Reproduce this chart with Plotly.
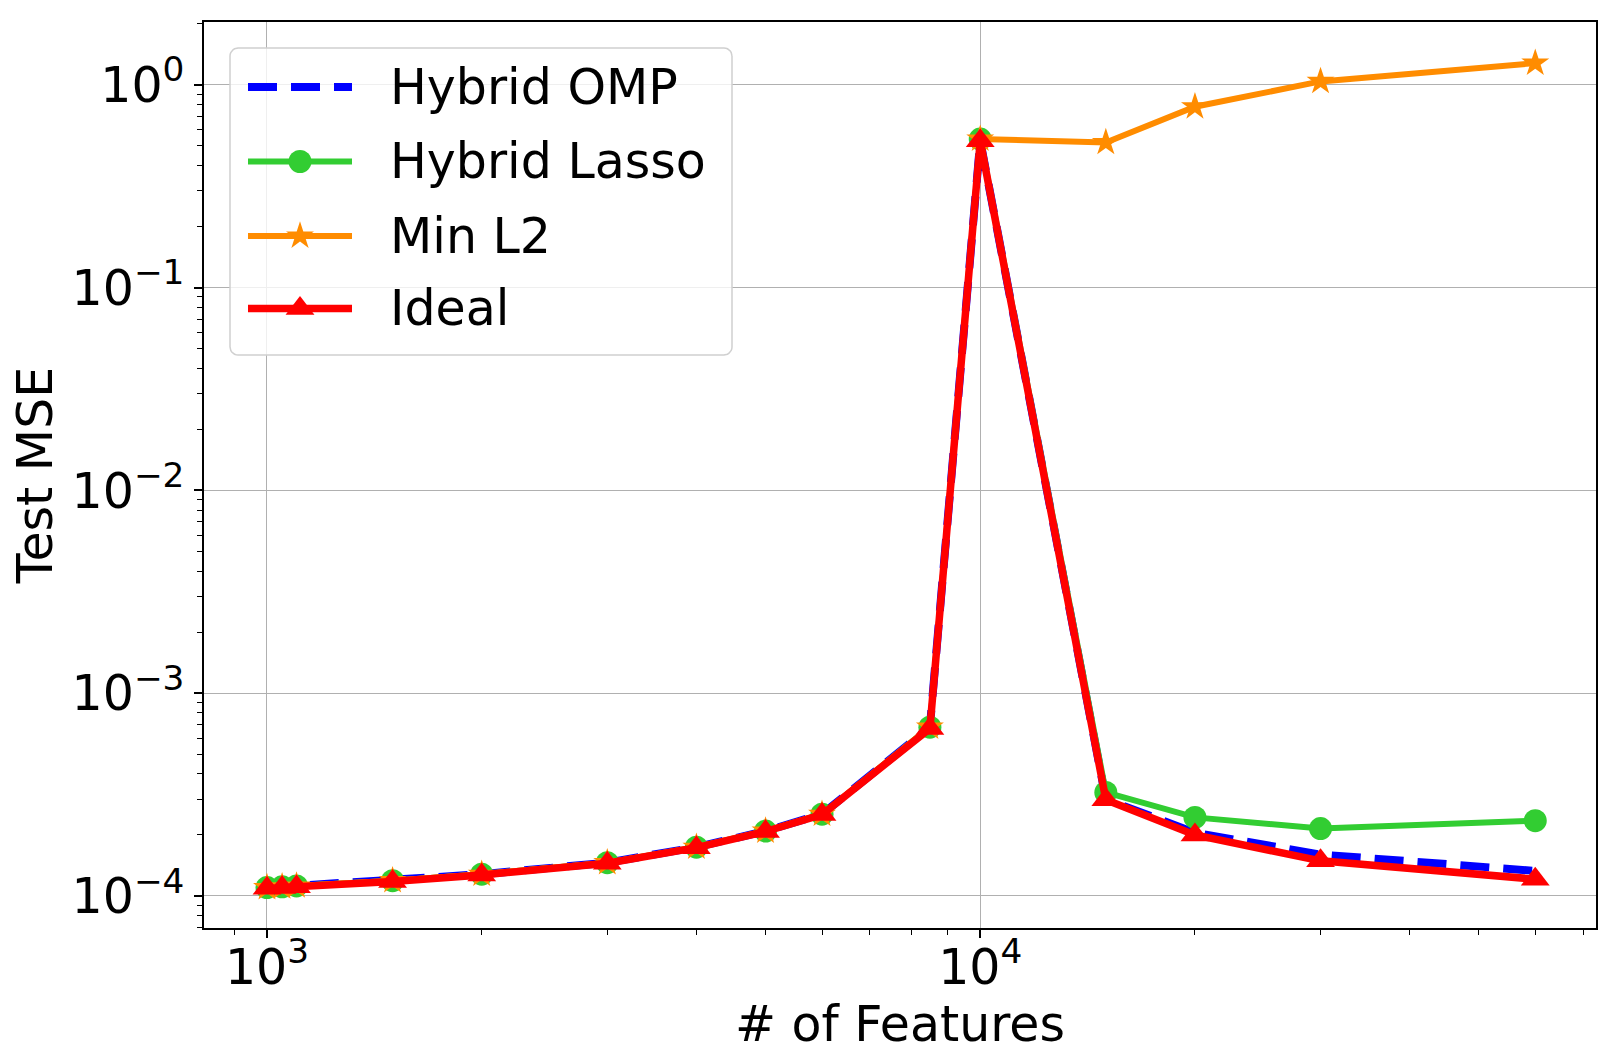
import plotly.graph_objects as go
import numpy as np

features = [1000, 1050, 1100, 1500, 2000, 3000, 4000, 5000, 6000, 8500, 10000, 15000, 20000, 30000, 60000]

hybrid_omp = [1.10e-4, 1.11e-4, 1.12e-4, 1.19e-4, 1.28e-4, 1.46e-4, 1.74e-4, 2.09e-4, 2.53e-4, 6.8e-4, 0.53, 3.0e-4, 2.05e-4, 1.60e-4, 1.33e-4]
hybrid_lasso = [1.10e-4, 1.11e-4, 1.12e-4, 1.19e-4, 1.28e-4, 1.46e-4, 1.74e-4, 2.09e-4, 2.53e-4, 6.8e-4, 0.54, 3.24e-4, 2.44e-4, 2.15e-4, 2.35e-4]
min_l2 = [1.10e-4, 1.11e-4, 1.12e-4, 1.19e-4, 1.28e-4, 1.46e-4, 1.74e-4, 2.09e-4, 2.53e-4, 6.8e-4, 0.54, 0.52, 0.78, 1.04, 1.28]
ideal = [1.09e-4, 1.10e-4, 1.11e-4, 1.18e-4, 1.27e-4, 1.45e-4, 1.73e-4, 2.08e-4, 2.52e-4, 6.7e-4, 0.53, 2.98e-4, 2.0e-4, 1.49e-4, 1.21e-4]

series_names = ["Hybrid OMP", "Hybrid Lasso", "Min L2", "Ideal"]

x_ticks = [1000, 10000]
x_ticktext = ["10<sup>3</sup>", "10<sup>4</sup>"]
y_ticks = [1e-4, 1e-3, 1e-2, 1e-1, 1]
y_ticktext = ["10<sup>\u22124</sup>", "10<sup>\u22123</sup>", "10<sup>\u22122</sup>", "10<sup>\u22121</sup>", "10<sup>0</sup>"]

FONT = "DejaVu Sans"
FS = 49

styles = [
    dict(mode="lines", line=dict(color="#0000ff", width=8, dash="29px,14px"), marker=None),
    dict(mode="lines+markers", line=dict(color="#32cd32", width=6), marker=dict(symbol="circle", size=23, color="#32cd32")),
    dict(mode="lines+markers", line=dict(color="#ff8c00", width=6), marker=dict(symbol="star", size=21, color="#ff8c00")),
    dict(mode="lines+markers", line=dict(color="#ff0000", width=7.5), marker=dict(symbol="triangle-up", size=25, color="#ff0000")),
]
data = [hybrid_omp, hybrid_lasso, min_l2, ideal]

fig = go.Figure()
for name, ys, st in zip(series_names, data, styles):
    kw = dict(x=features, y=ys, name=name, mode=st["mode"], line=st["line"], showlegend=False)
    if st["marker"]:
        kw["marker"] = st["marker"]
    fig.add_trace(go.Scatter(**kw))

# ---- custom legend in pixel coordinates of the plot area (overlay axes) ----
PW, PH = 1392, 906
bx0, bx1, by0, by1, rad = 26, 528, 573, 880, 8
t = np.linspace(0, np.pi / 2, 8)
px, py = [], []
for cx, cy, a0 in [(bx1 - rad, by1 - rad, 0), (bx0 + rad, by1 - rad, np.pi / 2),
                   (bx0 + rad, by0 + rad, np.pi), (bx1 - rad, by0 + rad, 1.5 * np.pi)]:
    px += list(cx + rad * np.cos(a0 + t))
    py += list(cy + rad * np.sin(a0 + t))
px.append(px[0]); py.append(py[0])
fig.add_trace(go.Scatter(x=px, y=py, xaxis="x2", yaxis="y2", mode="lines", fill="toself",
                         fillcolor="rgba(255,255,255,0.8)", line=dict(color="#d0d0d0", width=1.5),
                         showlegend=False, hoverinfo="skip"))
row_y = [841, 766.5, 692, 619.5]
lx0, lx1, tx = 44, 148, 184
for name, st, ry in zip(series_names, styles, row_y):
    fig.add_trace(go.Scatter(x=[lx0, lx1], y=[ry, ry], xaxis="x2", yaxis="y2", mode="lines",
                             line=st["line"], showlegend=False, hoverinfo="skip"))
    if st["marker"]:
        fig.add_trace(go.Scatter(x=[(lx0 + lx1) / 2], y=[ry], xaxis="x2", yaxis="y2", mode="markers",
                                 marker=st["marker"], showlegend=False, hoverinfo="skip"))
    fig.add_annotation(x=tx, y=ry, xref="x2", yref="y2", text=name, showarrow=False,
                       xanchor="left", yanchor="middle", font=dict(family=FONT, size=FS, color="black"))

minor_x = [m * 10 ** e for e in range(2, 5) for m in range(2, 10) if 800 < m * 10 ** e < 75000]
minor_y = [m * 10.0 ** e for e in range(-5, 1) for m in range(2, 10) if 6e-5 < m * 10.0 ** e < 2.1]

fig.update_layout(
    width=1623, height=1064,
    margin=dict(l=204, r=27, t=22, b=136),
    paper_bgcolor="white", plot_bgcolor="white",
    font=dict(family=FONT, size=FS, color="black"),
    showlegend=False,
    xaxis=dict(type="log", range=[np.log10(816), np.log10(73000)],
               tickmode="array", tickvals=x_ticks, ticktext=x_ticktext,
               showgrid=True, gridcolor="#b0b0b0", gridwidth=1.3,
               showline=True, linecolor="black", linewidth=1.5, mirror=True,
               ticks="outside", ticklen=8, tickwidth=1.5, tickcolor="black",
               ticklabelstandoff=-13,
               minor=dict(tickvals=minor_x, ticks="outside", ticklen=5, tickwidth=1, tickcolor="black", showgrid=False),
               title=dict(text="# of Features", font=dict(family=FONT, size=FS), standoff=0),
               zeroline=False),
    yaxis=dict(type="log", range=[-4.158, 0.31],
               tickmode="array", tickvals=y_ticks, ticktext=y_ticktext,
               showgrid=True, gridcolor="#b0b0b0", gridwidth=1.3,
               showline=True, linecolor="black", linewidth=1.5, mirror=True,
               ticks="outside", ticklen=8, tickwidth=1.5, tickcolor="black",
               minor=dict(tickvals=minor_y, ticks="outside", ticklen=5, tickwidth=1, tickcolor="black", showgrid=False),
               title=dict(text="Test MSE", font=dict(family=FONT, size=FS), standoff=3),
               zeroline=False),
    xaxis2=dict(overlaying="x", range=[0, PW], visible=False, fixedrange=True),
    yaxis2=dict(overlaying="y", range=[0, PH], visible=False, fixedrange=True),
)

fig.write_html("out.html")
